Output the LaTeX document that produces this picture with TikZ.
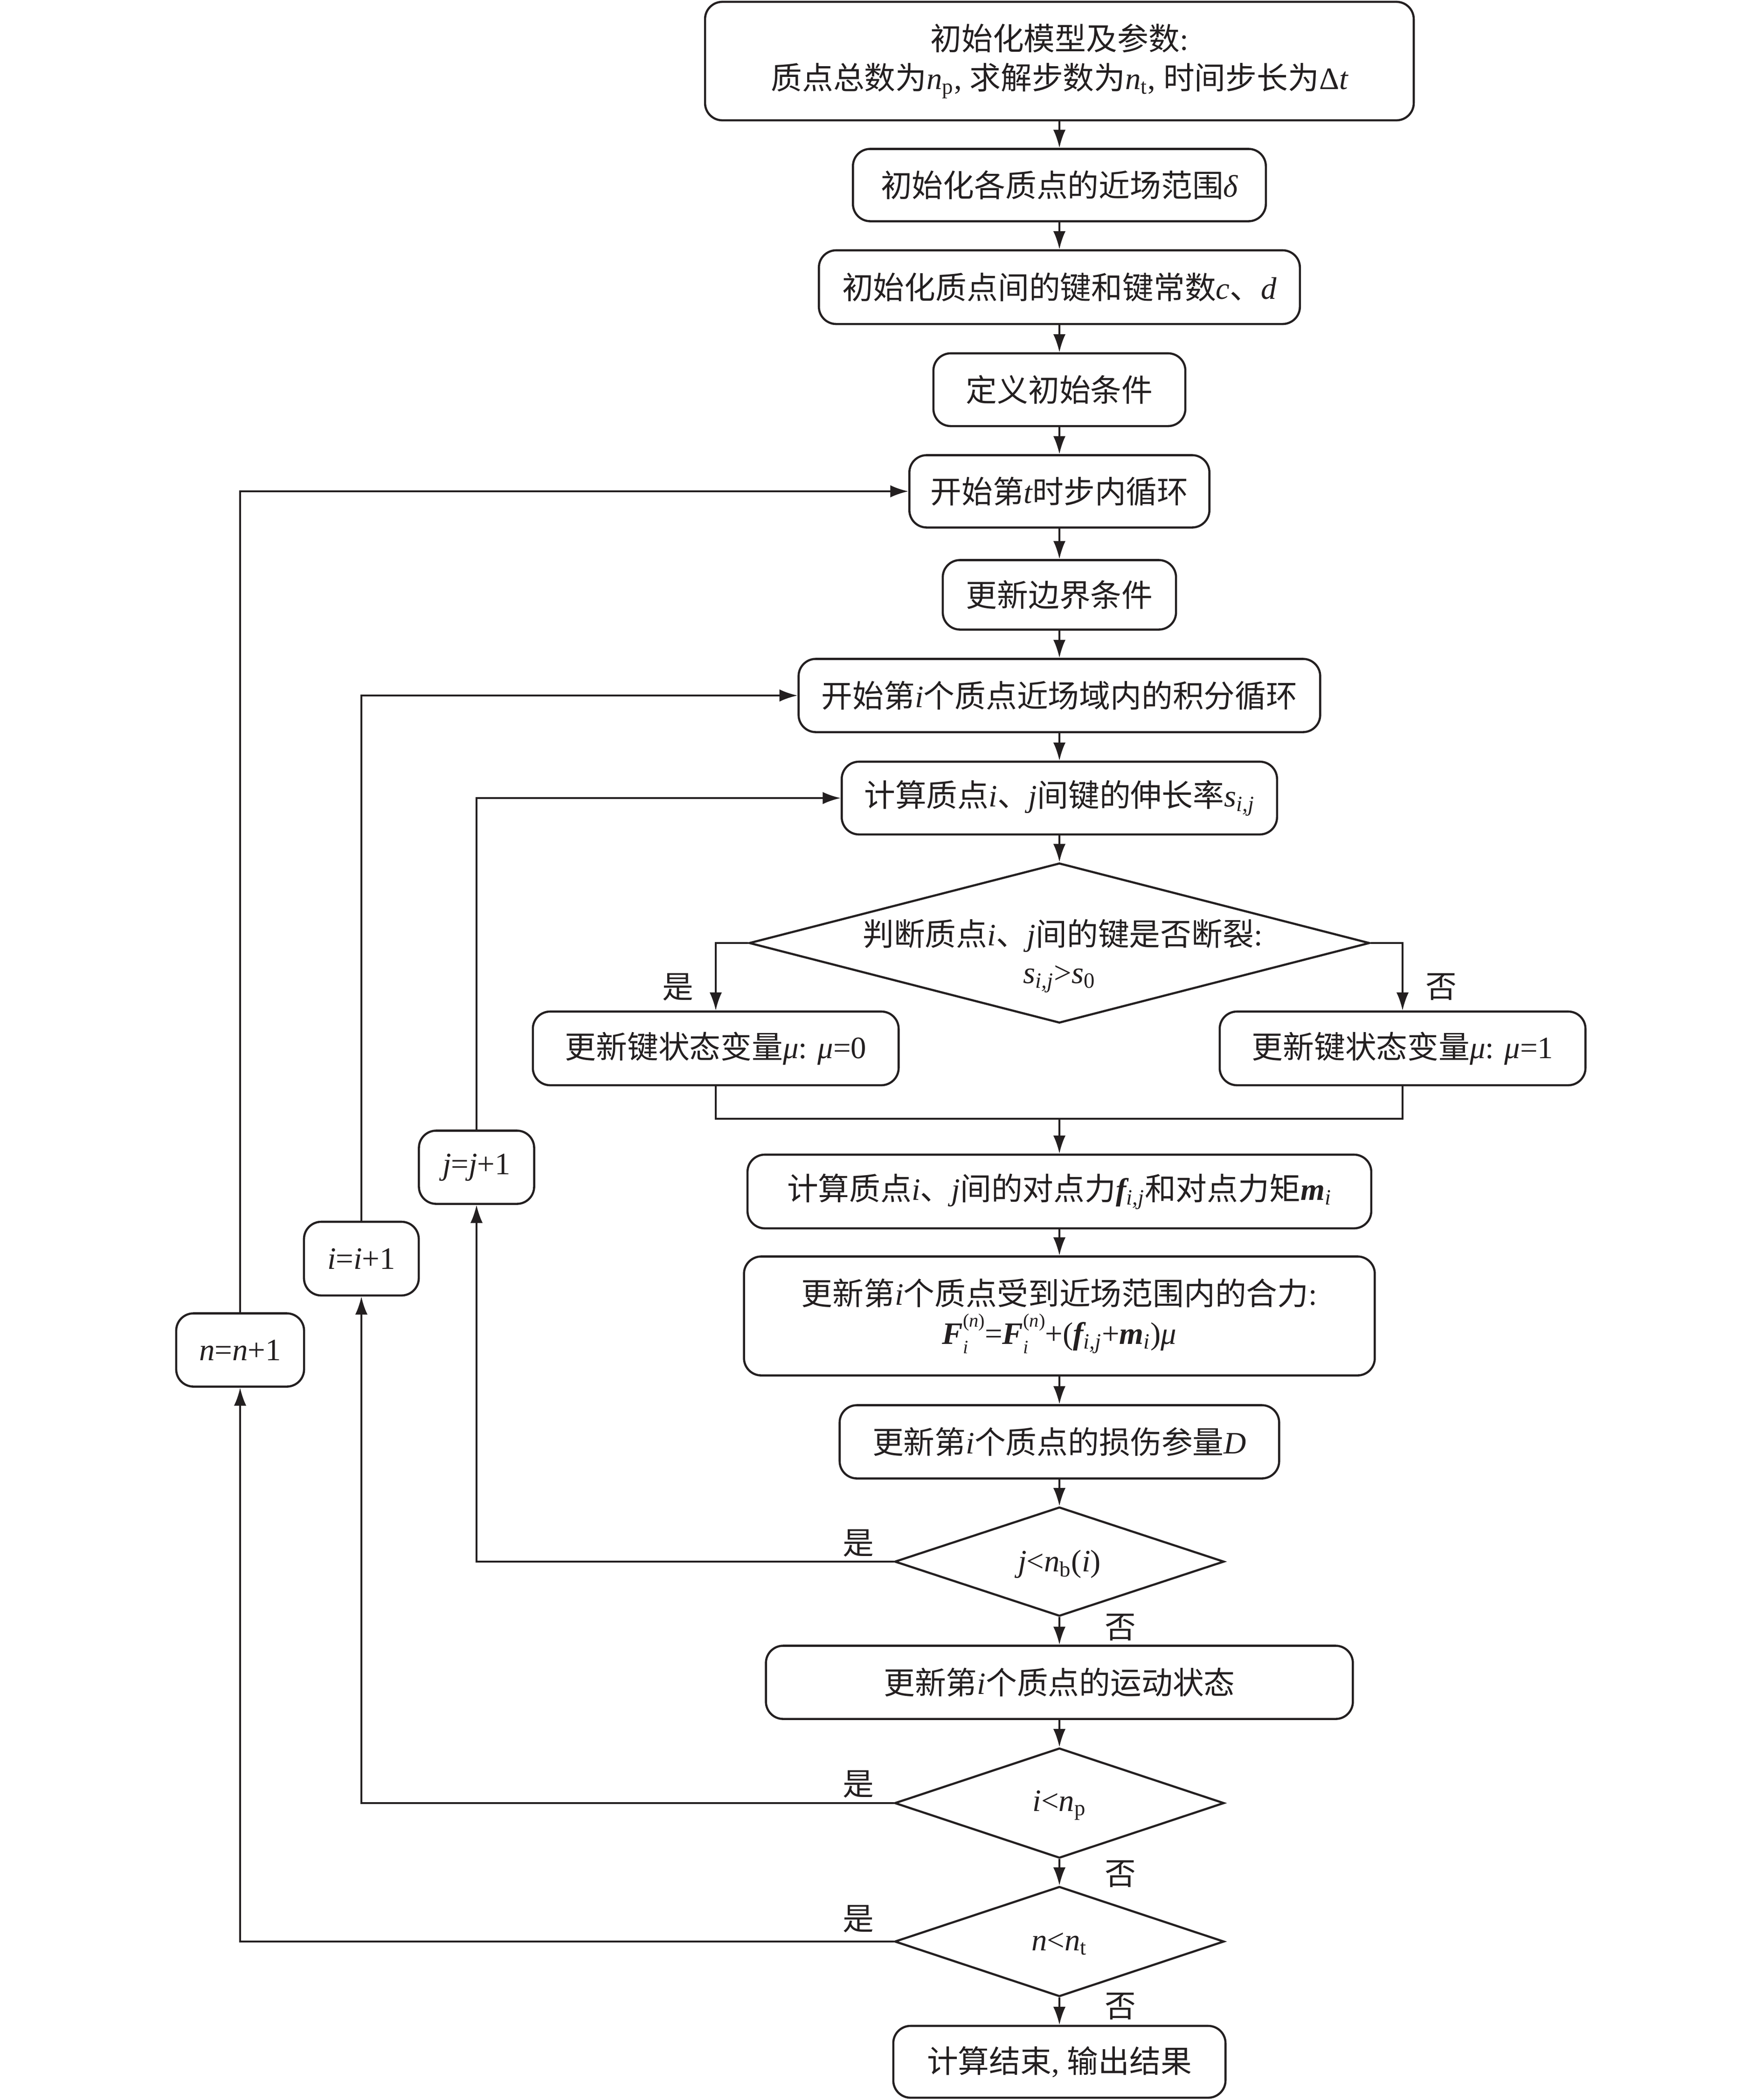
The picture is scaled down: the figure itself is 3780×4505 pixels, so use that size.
\documentclass[tikz,border=0pt]{standalone}
\usepackage{fontspec}
\setmainfont{Noto Sans CJK SC}
\newfontfamily\tm{Liberation Serif}
\usetikzlibrary{arrows.meta,shapes.geometric}
\newcommand\myit[1]{{\tm\itshape #1}}
\newcommand\mybf[1]{{\tm\bfseries\itshape #1}}
\newcommand\myrm[1]{{\tm #1}}
\newcommand\mysubi[1]{\textsubscript{\tm\itshape #1}}
\newcommand\mysubr[1]{\textsubscript{\tm #1}}
\newcommand\supsub[2]{\rlap{\raisebox{-0.3em}{\fontsize{11.5}{12}\selectfont\tm\itshape #2}}\raisebox{0.55em}{\fontsize{11.5}{12}\selectfont\tm(\textit{#1})}}
\definecolor{ink}{RGB}{35,31,32}
\begin{document}
\begin{tikzpicture}[x=0.01cm,y=-0.01cm,
  every node/.style={text=ink},
  box/.style={draw=ink, line width=1.3pt, rounded corners=0.37cm, inner sep=0pt, align=center, font=\fontsize{19}{24}\selectfont},
  dia/.style={draw=ink, diamond, line width=1.3pt, inner sep=0pt},
  lbl/.style={inner sep=0pt, font=\fontsize{19}{24}\selectfont},
  arr/.style={draw=ink, line width=1pt, -{Latex[length=11pt,width=7.5pt]}},
  ln/.style={draw=ink, line width=1pt}]
\useasboundingbox (0,0) rectangle (3780,4505);

% main column
\node[box, minimum width=15.19cm, minimum height=2.54cm] (b1) at (2272,131) {初始化模型及参数\myrm{:}\\质点总数为\myit{n}\mysubr{p}\myrm{, }求解步数为\myit{n}\mysubr{t}\myrm{, }时间步长为\myrm{Δ}\myit{t}};
\node[box, minimum width=8.85cm, minimum height=1.55cm] (b2) at (2272,397) {初始化各质点的近场范围\myit{δ}};
\node[box, minimum width=10.31cm, minimum height=1.58cm] (b3) at (2272,616) {初始化质点间的键和键常数\myit{c}、\myit{d}};
\node[box, minimum width=5.40cm, minimum height=1.56cm] (b4) at (2272,836) {定义初始条件};
\node[box, minimum width=6.43cm, minimum height=1.55cm] (b5) at (2272,1054) {开始第\myit{t}时步内循环};
\node[box, minimum width=5.00cm, minimum height=1.49cm] (b6) at (2272,1276) {更新边界条件};
\node[box, minimum width=11.18cm, minimum height=1.57cm] (b7) at (2272,1492) {开始第\myit{i}个质点近场域内的积分循环};
\node[box, minimum width=9.33cm, minimum height=1.56cm] (b8) at (2272,1712) {计算质点\myit{i}、\myit{j}间键的伸长率\myit{s}\mysubi{i,j}};
\node[dia, minimum width=13.30cm, minimum height=3.43cm] (d1) at (2272,2023) {};
\node[lbl] (d1a) at (2279,2007) {判断质点\myit{i}、\myit{j}间的键是否断裂\myrm{:}};
\node[lbl] (d1b) at (2272,2100) {\myit{s}\mysubi{i,j}\myrm{>}\myit{s}\mysubr{0}};
\node[box, minimum width=7.84cm, minimum height=1.58cm] (bl) at (1535,2249) {更新键状态变量\myit{μ}\myrm{: }\myit{μ}\myrm{=0}};
\node[box, minimum width=7.84cm, minimum height=1.58cm] (br) at (3008,2249) {更新键状态变量\myit{μ}\myrm{: }\myit{μ}\myrm{=1}};
\coordinate (m) at (2272,2400);
\node[box, minimum width=13.37cm, minimum height=1.58cm] (b11) at (2272,2556) {计算质点\myit{i}、\myit{j}间的对点力\mybf{f}\mysubi{i,j}和对点力矩\mybf{m}\mysubi{i}};
\node[box, minimum width=13.52cm, minimum height=2.55cm] (b12) at (2272,2823) {更新第\myit{i}个质点受到近场范围内的合力\myrm{:}\\\mybf{F}\supsub{n}{i}\myrm{=}\mybf{F}\supsub{n}{i}\myrm{+(}\mybf{f}\mysubi{i,j}\myrm{+}\mybf{m}\mysubi{i}\myrm{)}\myit{μ}};
\node[box, minimum width=9.42cm, minimum height=1.57cm] (b13) at (2272,3093) {更新第\myit{i}个质点的损伤参量\myit{D}};
\node[dia, minimum width=7.06cm, minimum height=2.34cm] (d2) at (2272,3350) {};
\node[lbl] (d2t) at (2272,3355) {\myit{j}\myrm{<}\myit{n}\mysubr{b}\myrm{(}\myit{i}\myrm{)}};
\node[box, minimum width=12.58cm, minimum height=1.57cm] (b15) at (2272,3609) {更新第\myit{i}个质点的运动状态};
\node[dia, minimum width=7.06cm, minimum height=2.36cm] (d3) at (2272,3868) {};
\node[lbl] (d3t) at (2272,3873) {\myit{i}\myrm{<}\myit{n}\mysubr{p}};
\node[dia, minimum width=7.06cm, minimum height=2.36cm] (d4) at (2272,4165) {};
\node[lbl] (d4t) at (2272,4170) {\myit{n}\myrm{<}\myit{n}\mysubr{t}};
\node[box, minimum width=7.12cm, minimum height=1.54cm] (bend) at (2272,4423) {计算结束\myrm{, }输出结果};

% loop counters
\node[box, minimum width=2.47cm, minimum height=1.57cm] (jj) at (1022,2504) {\myit{j}\myrm{=}\myit{j}\myrm{+1}};
\node[box, minimum width=2.46cm, minimum height=1.58cm] (ii) at (775,2700) {\myit{i}\myrm{=}\myit{i}\myrm{+1}};
\node[box, minimum width=2.74cm, minimum height=1.57cm] (nn) at (515,2896) {\myit{n}\myrm{=}\myit{n}\myrm{+1}};

% labels
\node[lbl] (y1) at (1454,2117) {是};
\node[lbl] (n1) at (3091,2117) {否};
\node[lbl] (y2) at (1841,3310) {是};
\node[lbl] (n2) at (2403,3491) {否};
\node[lbl] (y3) at (1841,3827) {是};
\node[lbl] (n3) at (2403,4020) {否};
\node[lbl] (y4) at (1841,4116) {是};
\node[lbl] (n4) at (2403,4304) {否};

% main arrows
\draw[arr] (b1.south) -- (b2.north);
\draw[arr] (b2.south) -- (b3.north);
\draw[arr] (b3.south) -- (b4.north);
\draw[arr] (b4.south) -- (b5.north);
\draw[arr] (b5.south) -- (b6.north);
\draw[arr] (b6.south) -- (b7.north);
\draw[arr] (b7.south) -- (b8.north);
\draw[arr] (b8.south) -- (d1.north);
\draw[arr] (d1.west) -| (bl.north);
\draw[arr] (d1.east) -| (br.north);
\draw[ln] (bl.south) |- (m) -| (br.south);
\draw[arr] (m) -- (b11.north);
\draw[arr] (b11.south) -- (b12.north);
\draw[arr] (b12.south) -- (b13.north);
\draw[arr] (b13.south) -- (d2.north);
\draw[arr] (d2.south) -- (b15.north);
\draw[arr] (b15.south) -- (d3.north);
\draw[arr] (d3.south) -- (d4.north);
\draw[arr] (d4.south) -- (bend.north);

% loops
\draw[arr] (d2.west) -| (jj.south);
\draw[arr] (jj.north) |- (b8.west);
\draw[arr] (d3.west) -| (ii.south);
\draw[arr] (ii.north) |- (b7.west);
\draw[arr] (d4.west) -| (nn.south);
\draw[arr] (nn.north) |- (b5.west);
\end{tikzpicture}
\end{document}
